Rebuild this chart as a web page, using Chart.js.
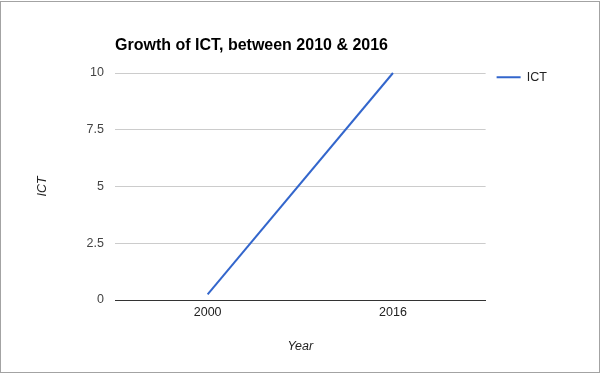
<!DOCTYPE html>
<html>
<head>
<meta charset="utf-8">
<script src="https://cdn.jsdelivr.net/npm/chart.js@4.4.1/dist/chart.umd.min.js"></script>
<style>
  body{ margin:0; background:#fff; }
  canvas{ position:absolute; left:0; top:0; }
  #frame{ position:absolute; left:0; top:1px; width:598px; height:370px; border:1px solid #a3a3a3; pointer-events:none; }
</style>
</head>
<body>
<canvas id="chart" width="600" height="374"></canvas>
<div id="frame"></div>
<script>

const years      = ['2000', '2016']
const ictValues  = [0.25, 10]
const yTicks     = [0, 2.5, 5, 7.5, 10]
const chartTitle = 'Growth of ICT, between 2010 & 2016'
const seriesName = 'ICT'
const xTitle     = 'Year'
const yTitle     = 'ICT'

const FONT = "'Liberation Sans', Arial, sans-serif"


// legend item sits a little above the plot top in the original
const legendNudge = {
      id: 'legendNudge',
      afterLayout: (chart)=>{
            chart.legend.top    -= 13
            chart.legend.bottom -= 13
      }
}


const setup = {
      type: 'line',
      data: {
            labels: years,
            datasets: [{
                  label: seriesName,
                  data: ictValues,
                  borderColor: '#3366cc',
                  backgroundColor: '#3366cc',
                  borderWidth: 2,
                  pointRadius: 0,
                  pointHoverRadius: 0,
                  tension: 0,
                  fill: false,
                  clip: false
            }]
      },
      options: {
            responsive: false,
            animation: false,
            devicePixelRatio: 1,
            layout: { padding: { top: 0, left: 0, bottom: 0, right: 43 } },
            scales: {
                  x: {
                        type: 'category',
                        offset: true,
                        afterFit: (s)=>{ s.height = 74 },
                        grid: { display: false, drawTicks: false },
                        border: { display: true, color: '#333', width: 1 },
                        ticks: { color: '#222', padding: 5, font: { family: FONT, size: 12.5 } },
                        title: {
                              display: true, text: xTitle, color: '#222',
                              font: { family: FONT, size: 12.5, style: 'italic' },
                              padding: { top: 0, bottom: 19.5 }
                        }
                  },
                  y: {
                        min: 0,
                        max: 10,
                        afterFit: (s)=>{ s.width = 115 },
                        afterBuildTicks: (axis)=>{ axis.ticks = yTicks.map(v => ({ value: v })) },
                        grid: {
                              drawTicks: false,
                              color: (ctx)=> ctx.tick && ctx.tick.value === 0 ? '#333' : '#cccccc'
                        },
                        border: { display: false },
                        ticks: {
                              color: '#444', padding: 11,
                              font: { family: FONT, size: 12.5 },
                              callback: (v)=> String(v)
                        },
                        title: {
                              display: true, text: yTitle, color: '#222',
                              font: { family: FONT, size: 12.5, style: 'italic' },
                              padding: { top: 35, bottom: 0 }
                        }
                  }
            },
            plugins: {
                  title: {
                        display: true,
                        text: chartTitle,
                        align: 'start',
                        fullSize: false,
                        color: '#000',
                        font: { family: FONT, size: 16, weight: 'bold' },
                        padding: { top: 36.4, bottom: 17.4 }
                  },
                  legend: {
                        display: true,
                        position: 'right',
                        align: 'start',
                        fullSize: false,
                        labels: {
                              usePointStyle: true,
                              pointStyle: 'line',
                              pointStyleWidth: 24,
                              padding: 11,
                              color: '#222',
                              font: { family: FONT, size: 12.5 }
                        }
                  },
                  tooltip: { enabled: false }
            }
      },
      plugins: [legendNudge]
}

new Chart(document.getElementById('chart'), setup)

</script>
</body>
</html>
